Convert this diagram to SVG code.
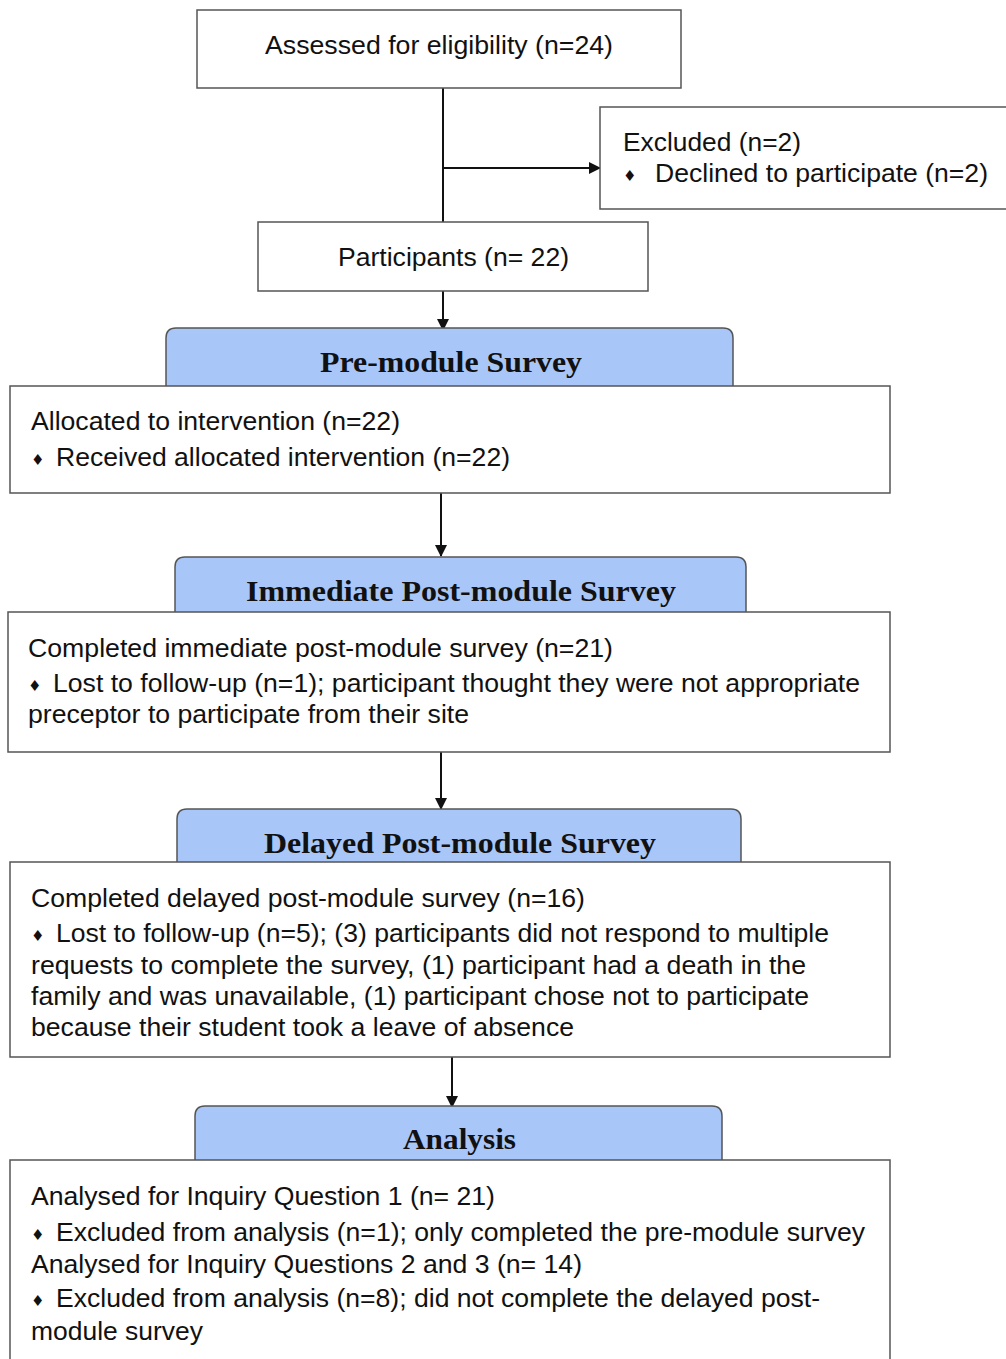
<svg xmlns="http://www.w3.org/2000/svg" width="1006" height="1359" viewBox="0 0 1006 1359">
<defs>
<style>
.box{fill:#fff;stroke:#555;stroke-width:1.5}
.tab{fill:#a9c6f8;stroke:#555;stroke-width:1.5}
.t{font-family:"Liberation Sans",Arial,sans-serif;font-size:25px;fill:#111}
.h{font-family:"Liberation Serif","Times New Roman",serif;font-size:30px;font-weight:bold;fill:#111}
.b{font-family:"DejaVu Sans",sans-serif;font-size:15px;fill:#111}
.ln{stroke:#111;stroke-width:2;fill:none}
</style>
<marker id="ah" markerWidth="12" markerHeight="12" refX="11" refY="6" orient="auto" markerUnits="userSpaceOnUse">
<path d="M0,0 L12,6 L0,12 z" fill="#111"/>
</marker>
</defs>
<rect width="1006" height="1359" fill="#fff"/>
<g id="connectors">
<line class="ln" x1="443" y1="88" x2="443" y2="222"/>
<line class="ln" x1="443" y1="168" x2="600" y2="168" marker-end="url(#ah)"/>
<line class="ln" x1="443" y1="291" x2="443" y2="330" marker-end="url(#ah)"/>
<line class="ln" x1="441" y1="493" x2="441" y2="556" marker-end="url(#ah)"/>
<line class="ln" x1="441" y1="752" x2="441" y2="809" marker-end="url(#ah)"/>
<line class="ln" x1="452" y1="1057" x2="452" y2="1107" marker-end="url(#ah)"/>
</g>
<g id="assessed">
<rect class="box" x="197" y="10" width="484" height="78"/>
<text class="t" x="265" y="54" textLength="348" lengthAdjust="spacingAndGlyphs">Assessed for eligibility (n=24)</text>
</g>
<g id="excluded">
<rect class="box" x="600" y="107" width="410" height="102"/>
<text class="t" x="623" y="151" textLength="178" lengthAdjust="spacingAndGlyphs">Excluded (n=2)</text>
<text class="b" x="623" y="181">♦</text>
<text class="t" x="655" y="182" textLength="333" lengthAdjust="spacingAndGlyphs">Declined to participate (n=2)</text>
</g>
<g id="participants">
<rect class="box" x="258" y="222" width="390" height="69"/>
<text class="t" x="338" y="266" textLength="231" lengthAdjust="spacingAndGlyphs">Participants (n= 22)</text>
</g>
<g id="pre-module">
<path class="tab" d="M166,386 V338 Q166,328 176,328 H723 Q733,328 733,338 V386"/>
<text class="h" x="320" y="372" textLength="262" lengthAdjust="spacingAndGlyphs">Pre-module Survey</text>
<rect class="box" x="10" y="386" width="880" height="107"/>
<text class="t" x="31" y="430" textLength="369" lengthAdjust="spacingAndGlyphs">Allocated to intervention (n=22)</text>
<text class="b" x="31" y="465">♦</text>
<text class="t" x="56" y="466" textLength="454" lengthAdjust="spacingAndGlyphs">Received allocated intervention (n=22)</text>
</g>
<g id="immediate">
<path class="tab" d="M175,612 V567 Q175,557 185,557 H736 Q746,557 746,567 V612"/>
<text class="h" x="246" y="601" textLength="430" lengthAdjust="spacingAndGlyphs">Immediate Post-module Survey</text>
<rect class="box" x="8" y="612" width="882" height="140"/>
<text class="t" x="28" y="657" textLength="585" lengthAdjust="spacingAndGlyphs">Completed immediate post-module survey (n=21)</text>
<text class="b" x="28" y="691">♦</text>
<text class="t" x="53" y="692" textLength="807" lengthAdjust="spacingAndGlyphs">Lost to follow-up (n=1); participant thought they were not appropriate</text>
<text class="t" x="28" y="723" textLength="441" lengthAdjust="spacingAndGlyphs">preceptor to participate from their site</text>
</g>
<g id="delayed">
<path class="tab" d="M177,862 V819 Q177,809 187,809 H731 Q741,809 741,819 V862"/>
<text class="h" x="264" y="853" textLength="392" lengthAdjust="spacingAndGlyphs">Delayed Post-module Survey</text>
<rect class="box" x="10" y="862" width="880" height="195"/>
<text class="t" x="31" y="907" textLength="554" lengthAdjust="spacingAndGlyphs">Completed delayed post-module survey (n=16)</text>
<text class="b" x="31" y="941">♦</text>
<text class="t" x="56" y="942" textLength="773" lengthAdjust="spacingAndGlyphs">Lost to follow-up (n=5); (3) participants did not respond to multiple</text>
<text class="t" x="31" y="974" textLength="775" lengthAdjust="spacingAndGlyphs">requests to complete the survey, (1) participant had a death in the</text>
<text class="t" x="31" y="1005" textLength="778" lengthAdjust="spacingAndGlyphs">family and was unavailable, (1) participant chose not to participate</text>
<text class="t" x="31" y="1036" textLength="543" lengthAdjust="spacingAndGlyphs">because their student took a leave of absence</text>
</g>
<g id="analysis">
<path class="tab" d="M195,1160 V1116 Q195,1106 205,1106 H712 Q722,1106 722,1116 V1160"/>
<text class="h" x="403" y="1149" textLength="113" lengthAdjust="spacingAndGlyphs">Analysis</text>
<rect class="box" x="10" y="1160" width="880" height="220"/>
<text class="t" x="31" y="1205" textLength="464" lengthAdjust="spacingAndGlyphs">Analysed for Inquiry Question 1 (n= 21)</text>
<text class="b" x="31" y="1240">♦</text>
<text class="t" x="56" y="1241" textLength="809" lengthAdjust="spacingAndGlyphs">Excluded from analysis (n=1); only completed the pre-module survey</text>
<text class="t" x="31" y="1273" textLength="551" lengthAdjust="spacingAndGlyphs">Analysed for Inquiry Questions 2 and 3 (n= 14)</text>
<text class="b" x="31" y="1306">♦</text>
<text class="t" x="56" y="1307" textLength="764" lengthAdjust="spacingAndGlyphs">Excluded from analysis (n=8); did not complete the delayed post-</text>
<text class="t" x="31" y="1340" textLength="172" lengthAdjust="spacingAndGlyphs">module survey</text>
</g>
</svg>
